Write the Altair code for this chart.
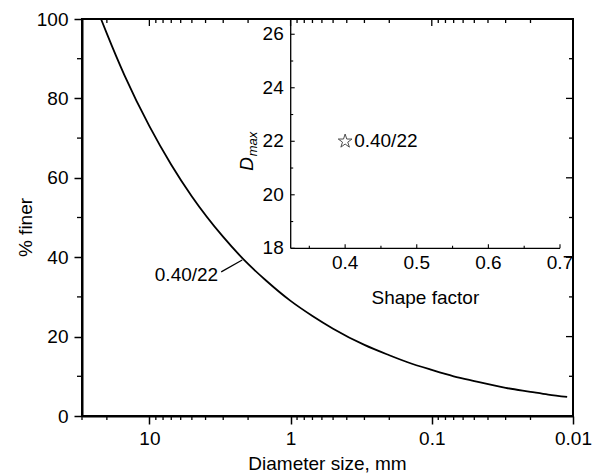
import altair as alt
import pandas as pd

# ---- main curve ----
diameter_mm = [22, 20, 15, 10, 7, 5, 3, 2, 1.5, 1, 0.7, 0.5, 0.3, 0.2, 0.15,
               0.1, 0.07, 0.05, 0.03, 0.02, 0.015, 0.011]
percent_finer = [100, 96.3, 85.8, 73.0, 63.3, 55.3, 45.1, 38.3, 34.2, 29.0, 25.2,
                 22.0, 17.9, 15.3, 13.6, 11.6, 10.0, 8.8, 7.1, 6.1, 5.4, 4.8]

curve_label = ["0.40/22"]
leader_d = [3.1, 2.2]
leader_p = [36.3, 39.3]

x_major = [10, 1, 0.1, 0.01]
x_minor = [30, 20, 9, 8, 7, 6, 5, 4, 3, 2, 0.9, 0.8, 0.7, 0.6, 0.5, 0.4, 0.3, 0.2,
           0.09, 0.08, 0.07, 0.06, 0.05, 0.04, 0.03, 0.02]
y_major = [0, 20, 40, 60, 80, 100]
y_minor = [10, 30, 50, 70, 90]

# ---- inset ----
inset_shape = [0.40]
inset_dmax = [22]
inset_label = ["0.40/22"]
inset_x_range = [0.324, 0.7]
inset_y_range = [18, 26.57]
inset_x_major = [0.4, 0.5, 0.6, 0.7]
inset_x_minor = [0.35, 0.45, 0.55, 0.65]
inset_y_major = [18, 20, 22, 24, 26]
inset_y_minor = [19, 21, 23, 25]

W, H = 491, 397
FONT = "Liberation Sans"
FS = 19
STAR = ("M0,-1L0.2245,-0.309L0.9511,-0.309L0.3633,0.118L0.5878,0.809L0,0.382"
        "L-0.5878,0.809L-0.3633,0.118L-0.9511,-0.309L-0.2245,-0.309Z")

df_curve = pd.DataFrame({"d": diameter_mm, "p": percent_finer})
df_leader = pd.DataFrame({"d": leader_d, "p": leader_p})
df_clabel = pd.DataFrame({"d": [leader_d[0]], "p": [leader_p[0] - 0.8], "t": curve_label})
df_xmaj = pd.DataFrame({"v": x_major})
df_xmin = pd.DataFrame({"v": x_minor})
df_ymaj = pd.DataFrame({"v": y_major})
df_ymin = pd.DataFrame({"v": y_minor})

xs = alt.Scale(type="log", domain=[0.01, 30], reverse=True, nice=False)
ys = alt.Scale(domain=[0, 100], nice=False, zero=False)

curve = alt.Chart(df_curve).mark_line(color="black", strokeWidth=1.8, interpolate="monotone").encode(
    x=alt.X("d:Q", scale=xs, axis=alt.Axis(
        values=x_major, format="~g", tickSize=8, labelPadding=5,
        labelFlush=False, labelOverlap=False, grid=False, domainWidth=2, title=None)),
    y=alt.Y("p:Q", scale=ys, axis=alt.Axis(
        values=y_major, tickSize=8, labelPadding=6, labelFlush=False,
        grid=False, domainWidth=2, title=None)),
)

def xrule(df, y0, y1):
    return alt.Chart(df).mark_rule(color="black", strokeWidth=1.3).encode(
        x=alt.X("v:Q", scale=xs, axis=None), y=alt.value(y0), y2=alt.value(y1))

def yrule(df, x0, x1):
    return alt.Chart(df).mark_rule(color="black", strokeWidth=1.3).encode(
        y=alt.Y("v:Q", scale=ys, axis=None), x=alt.value(x0), x2=alt.value(x1))

bottom_minor = xrule(df_xmin, H, H + 4)
top_major = xrule(df_xmaj, 0, 7)
top_minor = xrule(df_xmin, 0, 4)
left_minor = yrule(df_ymin, -5, 0)
right_major = yrule(df_ymaj, W - 7, W)
right_minor = yrule(df_ymin, W - 4, W)

leader = alt.Chart(df_leader).mark_line(color="black", strokeWidth=1.2).encode(
    x=alt.X("d:Q", scale=xs, axis=None), y=alt.Y("p:Q", scale=ys, axis=None))
clabel = alt.Chart(df_clabel).mark_text(align="right", baseline="middle", dx=-3,
                                        font=FONT, fontSize=FS, color="black").encode(
    x=alt.X("d:Q", scale=xs, axis=None), y=alt.Y("p:Q", scale=ys, axis=None), text="t:N")

x_title = alt.Chart(pd.DataFrame({"t": ["Diameter size, mm"]})).mark_text(
    align="center", baseline="alphabetic", font=FONT, fontSize=FS, color="black").encode(
    x=alt.value(W / 2), y=alt.value(H + 54), text="t:N")
y_title = alt.Chart(pd.DataFrame({"t": ["% finer"]})).mark_text(
    angle=270, align="center", baseline="alphabetic", font=FONT, fontSize=FS,
    color="black").encode(x=alt.value(-50), y=alt.value(208.5), text="t:N")

# ---- inset: own linear scales spread over the whole plot so that the
# inset frame lands at the right place ----
IX0, IX1 = 208.7, 478.0       # pixel span of the inset x axis
IY0, IY1 = 229.3, 0.0         # pixel span of the inset y axis
sx = (inset_x_range[1] - inset_x_range[0]) / (IX1 - IX0)
sy = (inset_y_range[1] - inset_y_range[0]) / (IY0 - IY1)
ixs = alt.Scale(domain=[inset_x_range[0] - IX0 * sx, inset_x_range[1] + (W - IX1) * sx],
                nice=False, zero=False)
iys = alt.Scale(domain=[inset_y_range[0] - (H - IY0) * sy, inset_y_range[1] + IY1 * sy],
                nice=False, zero=False)

df_inset = pd.DataFrame({"s": inset_shape, "dm": inset_dmax, "t": inset_label})
df_ixmaj = pd.DataFrame({"v": inset_x_major})
df_ixmin = pd.DataFrame({"v": inset_x_minor})
df_iymaj = pd.DataFrame({"v": inset_y_major})
df_iymin = pd.DataFrame({"v": inset_y_minor})
df_iframe = pd.DataFrame({
    "x": [inset_x_range[0], inset_x_range[0]],
    "x2": [inset_x_range[1], inset_x_range[0]],
    "y": [inset_y_range[0], inset_y_range[0]],
    "y2": [inset_y_range[0], inset_y_range[1]],
})

star = alt.Chart(df_inset).mark_point(shape=STAR, filled=False, color="black",
                                      size=210, strokeWidth=1).encode(
    x=alt.X("s:Q", scale=ixs, axis=None),
    y=alt.Y("dm:Q", scale=iys, axis=None),
)
star_label = alt.Chart(df_inset).mark_text(align="left", baseline="middle", dx=9,
                                           font=FONT, fontSize=FS, color="black").encode(
    x=alt.X("s:Q", scale=ixs, axis=None), y=alt.Y("dm:Q", scale=iys, axis=None), text="t:N")

iframe = alt.Chart(df_iframe).mark_rule(color="black", strokeWidth=1.3).encode(
    x=alt.X("x:Q", scale=ixs, axis=None), x2="x2:Q",
    y=alt.Y("y:Q", scale=iys, axis=None), y2="y2:Q")

def ixrule(df, y0, y1):
    return alt.Chart(df).mark_rule(color="black", strokeWidth=1.1).encode(
        x=alt.X("v:Q", scale=ixs, axis=None), y=alt.value(y0), y2=alt.value(y1))

def iyrule(df, x0, x1):
    return alt.Chart(df).mark_rule(color="black", strokeWidth=1.1).encode(
        y=alt.Y("v:Q", scale=iys, axis=None), x=alt.value(x0), x2=alt.value(x1))

ib_maj = ixrule(df_ixmaj, IY0, IY0 - 4)
ib_min = ixrule(df_ixmin, IY0, IY0 - 2.5)
il_maj = iyrule(df_iymaj, IX0, IX0 + 4)
il_min = iyrule(df_iymin, IX0, IX0 + 2.5)

ix_labels = alt.Chart(df_ixmaj).mark_text(align="center", baseline="top", font=FONT,
                                          fontSize=FS, color="black").encode(
    x=alt.X("v:Q", scale=ixs, axis=None), y=alt.value(IY0 + 6),
    text=alt.Text("v:Q", format=".1f"))
iy_labels = alt.Chart(df_iymaj).mark_text(align="right", baseline="middle", font=FONT,
                                          fontSize=FS, color="black").encode(
    y=alt.Y("v:Q", scale=iys, axis=None), x=alt.value(IX0 - 7),
    text=alt.Text("v:Q", format="d"))
ix_title = alt.Chart(pd.DataFrame({"t": ["Shape factor"]})).mark_text(
    align="center", baseline="alphabetic", font=FONT, fontSize=FS, color="black").encode(
    x=alt.value((IX0 + IX1) / 2), y=alt.value(IY0 + 55.7), text="t:N")

d_text = alt.Chart(pd.DataFrame({"t": ["D"]})).mark_text(
    angle=270, align="center", baseline="alphabetic", font=FONT, fontSize=FS,
    fontStyle="italic", color="black").encode(
    x=alt.value(171), y=alt.value(145), text="t:N")
max_text = alt.Chart(pd.DataFrame({"t": ["max"]})).mark_text(
    angle=270, align="center", baseline="alphabetic", font=FONT, fontSize=13,
    fontStyle="italic", color="black").encode(
    x=alt.value(175), y=alt.value(125), text="t:N")

chart = alt.layer(
    curve, bottom_minor, top_major, top_minor, left_minor, right_major, right_minor,
    leader, clabel, x_title, y_title,
    star, star_label, iframe, ib_maj, ib_min, il_maj, il_min,
    ix_labels, iy_labels, ix_title, d_text, max_text,
).resolve_scale(x="independent", y="independent").properties(
    width=W, height=H,
    autosize=alt.AutoSizeParams(type="none"),
    padding={"left": 82, "top": 19, "right": 28, "bottom": 60},
).configure_view(stroke="black", strokeWidth=2).configure_axis(
    labelFont=FONT, labelFontSize=FS, labelColor="black",
    domainColor="black", tickColor="black", tickWidth=1.5,
)

chart.save("out.html", embed_options={"renderer": "svg", "actions": False})
